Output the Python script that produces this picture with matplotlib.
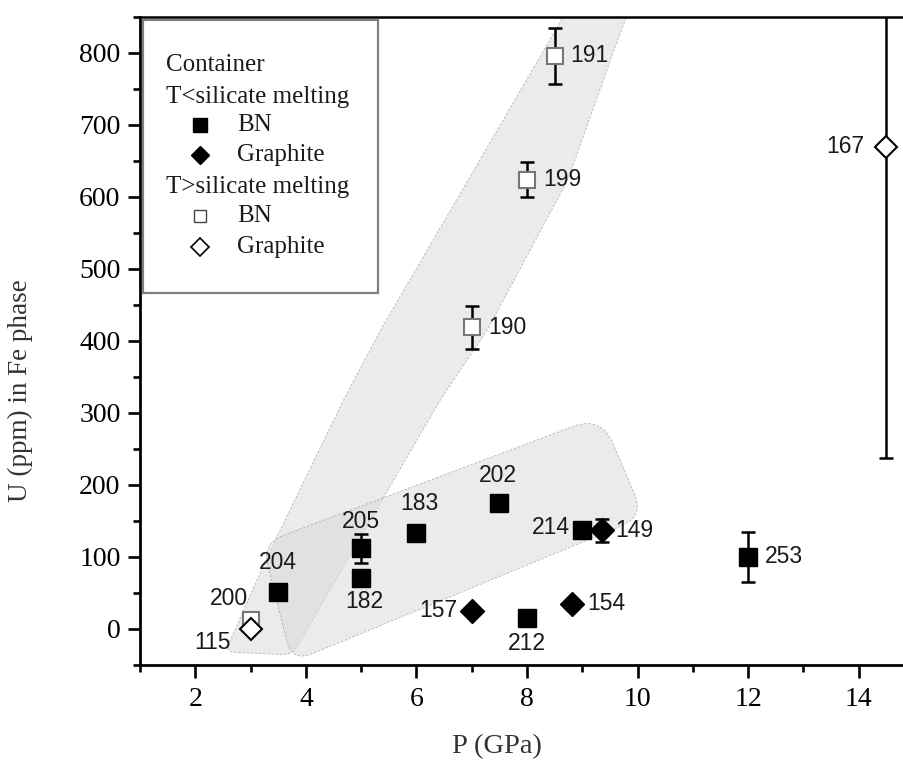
import matplotlib.pyplot as plt
import numpy as np
from matplotlib.path import Path
from matplotlib.patches import PathPatch, Rectangle

# T < silicate melting, BN container (filled squares)
bn_low_ids = ["204", "205", "182", "183", "202", "212", "214", "253"]
bn_low_p = [3.5, 5.0, 5.0, 6.0, 7.5, 8.0, 9.0, 12.0]
bn_low_u = [52, 112, 71, 133, 175, 15, 138, 100]
bn_low_err = [0, 20, 0, 0, 0, 0, 0, 35]

# T < silicate melting, graphite container (filled diamonds)
gr_low_ids = ["157", "154", "149"]
gr_low_p = [7.0, 8.81, 9.35]
gr_low_u = [25, 35, 137]
gr_low_err = [0, 0, 16]

# T > silicate melting, BN container (open squares)
bn_high_ids = ["200", "190", "199", "191"]
bn_high_p = [3.0, 7.0, 8.0, 8.5]
bn_high_u = [12, 419, 624, 796]
bn_high_err = [6, 30, 24, 39]

# T > silicate melting, graphite container (open diamonds)
gr_high_ids = ["115", "167"]
gr_high_p = [3.0, 14.5]
gr_high_u = [0, 670]
gr_high_err = [0, 432]

# shaded trends (outline in P, U units)
steep_band_p = [9.05, 5.35, 4.68, 3.30, 2.54, 3.75, 6.43, 7.28, 8.74, 9.54, 10.05]
steep_band_u = [902, 415, 318, 100, -32, -36, 318, 415, 624, 797, 902]
low_band_p = [3.21, 9.34, 10.12, 3.75]
low_band_u = [119, 296, 156, -46]

# label placement: offset (points) and alignment
label_pos = {
    "204": (0, 21, "center"), "205": (0, 19, "center"), "182": (2, -17, "center"),
    "183": (2, 21.5, "center"), "202": (-1, 20, "center"), "212": (0, -18, "center"),
    "214": (-9, 1.5, "right"), "253": (12, 0, "left"), "157": (-10, 0, "right"),
    "154": (11, 0.5, "left"), "149": (9.5, 0, "left"), "200": (-2, 16, "right"),
    "190": (12, 0, "left"), "199": (11.5, 0, "left"), "191": (11.5, 0, "left"),
    "115": (-14.5, -10, "right"), "167": (-16, 0, "right"),
}

SERIF = "Liberation Serif"
SANS = "Liberation Sans"


def rounded_patch(ax, xs, ys, radii, **kw):
    pts = ax.transData.transform(np.column_stack([xs, ys]))
    n = len(pts)
    verts, codes = [], []
    for i in range(n):
        p0, p1, p2 = pts[i - 1], pts[i], pts[(i + 1) % n]
        u0 = (p0 - p1) / np.linalg.norm(p0 - p1)
        u2 = (p2 - p1) / np.linalg.norm(p2 - p1)
        verts += [p1 + radii[i] * u0, p1, p1 + radii[i] * u2]
        codes += [Path.LINETO, Path.CURVE3, Path.CURVE3]
    codes[0] = Path.MOVETO
    verts.append(verts[0])
    codes.append(Path.CLOSEPOLY)
    verts = ax.transData.inverted().transform(np.array(verts))
    return PathPatch(Path(verts, codes), **kw)


def draw_series(ax, p, u, err, marker, ms, mfc, mec, mew):
    p, u, err = map(np.asarray, (p, u, err))
    has = err > 0
    if has.any():
        ax.errorbar(p[has], u[has], yerr=err[has], fmt="none", ecolor="black",
                    elinewidth=1.8, capsize=5, capthick=1.8, zorder=3)
    ax.plot(p, u, linestyle="none", marker=marker, ms=ms, mfc=mfc, mec=mec,
            mew=mew, zorder=4)


fig = plt.figure(figsize=(9.04, 7.71), dpi=100)
ax = fig.add_axes([0.1549, 0.1375, 0.8562, 0.8405])
ax.set_xlim(1, 15)
ax.set_ylim(-50, 850)

band_kw = dict(facecolor=(0.85, 0.85, 0.85, 0.5), edgecolor=(0.55, 0.55, 0.55, 0.6),
               linewidth=0.6, linestyle=(0, (3, 2)), zorder=1)
ax.add_patch(rounded_patch(ax, steep_band_p, steep_band_u,
                           [0, 8, 8, 8, 10, 10, 8, 8, 8, 8, 0], **band_kw))
ax.add_patch(rounded_patch(ax, low_band_p, low_band_u, [22, 30, 25, 22], **band_kw))

draw_series(ax, bn_low_p, bn_low_u, bn_low_err, "s", 13, "black", "black", 1)
draw_series(ax, gr_low_p, gr_low_u, gr_low_err, "D", 12, "black", "black", 1)
draw_series(ax, bn_high_p, bn_high_u, bn_high_err, "s", 12, "white", "#777777", 1.5)
draw_series(ax, gr_high_p, gr_high_u, gr_high_err, "D", 11, "white", "black", 1.5)

for ids, ps, us in [(bn_low_ids, bn_low_p, bn_low_u), (gr_low_ids, gr_low_p, gr_low_u),
                    (bn_high_ids, bn_high_p, bn_high_u), (gr_high_ids, gr_high_p, gr_high_u)]:
    for name, p, u in zip(ids, ps, us):
        dx, dy, ha = label_pos[name]
        ax.annotate(name, (p, u), xytext=(dx, dy), textcoords="offset points",
                    ha=ha, va="center", fontsize=16.5, family=SANS, color="#1a1a1a",
                    zorder=5)

# axes styling
ax.spines["right"].set_visible(False)
for side in ("left", "bottom"):
    ax.spines[side].set_linewidth(2.0)
ax.spines["top"].set_linewidth(1.8)
ax.set_xticks(np.arange(2, 15, 2))
ax.set_xticks(np.arange(1, 16, 2), minor=True)
ax.set_yticks(np.arange(0, 801, 100))
ax.set_yticks(np.arange(-50, 851, 100), minor=True)
ax.tick_params(which="major", direction="out", length=9, width=1.9, labelsize=20,
               pad=5, top=False, right=False)
ax.tick_params(axis="x", which="major", pad=7)
ax.tick_params(which="minor", direction="out", length=5, width=1.9, top=False,
               right=False)
for lab in ax.get_xticklabels() + ax.get_yticklabels():
    lab.set_family(SERIF)

ax.set_xlabel("P (GPa)", family=SERIF, fontsize=20.5, color="#333333")
ax.set_ylabel("U (ppm) in Fe phase", family=SERIF, fontsize=19.5, color="#333333")
ax.xaxis.set_label_coords(0.461, -0.106)
ax.yaxis.set_label_coords(-0.138, 0.424)

# hand-made legend box
ax.add_patch(Rectangle((0.004, 0.574), 0.304, 0.421, transform=ax.transAxes,
                       facecolor="white", edgecolor="#808080", linewidth=1.6,
                       zorder=6))
legend_rows = [
    (0.926, None, "Container"),
    (0.877, None, "T<silicate melting"),
    (0.833, ("s", 10, "black", "black", 1), "BN"),
    (0.787, ("D", 9, "black", "black", 1), "Graphite"),
    (0.738, None, "T>silicate melting"),
    (0.693, ("s", 9, "white", "#444444", 1), "BN"),
    (0.645, ("D", 9, "white", "black", 1.2), "Graphite"),
]
for y, mk, text in legend_rows:
    if mk is None:
        ax.text(0.034, y, text, transform=ax.transAxes, family=SERIF, fontsize=18,
                va="center", ha="left", color="#1a1a1a", zorder=7)
    else:
        m, ms, fc, ec, mew = mk
        ax.plot([0.0775], [y], transform=ax.transAxes, marker=m, ms=ms, mfc=fc,
                mec=ec, mew=mew, linestyle="none", clip_on=False, zorder=7)
        ax.text(0.125, y, text, transform=ax.transAxes, family=SERIF, fontsize=18,
                va="center", ha="left", color="#1a1a1a", zorder=7)

fig.savefig("out.png", dpi=100)
